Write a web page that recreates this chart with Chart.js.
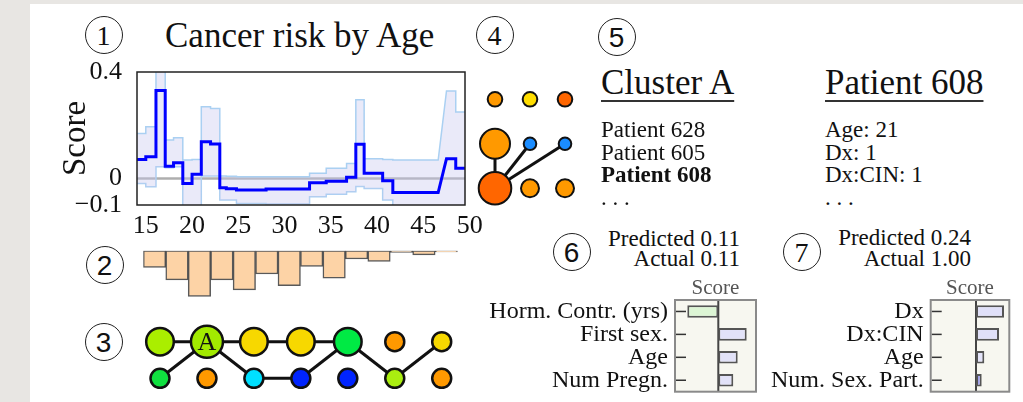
<!DOCTYPE html>
<html>
<head>
<meta charset="utf-8">
<script src="https://cdn.jsdelivr.net/npm/chart.js@4.4.1/dist/chart.umd.min.js"></script>
<style>
  html, body { margin: 0; padding: 0; }
  body {
    width: 1023px; height: 402px; position: relative; overflow: hidden;
    background: #e8e6e3;
    font-family: 'Liberation Serif', 'Times New Roman', serif; color: #111;
  }
  #sheet { position: absolute; left: 30px; top: 4px; right: 0; bottom: 0; background: #fff; }
  canvas { position: absolute; }
  .num {
    position: absolute; width: 36px; height: 36px; margin: -19.5px 0 0 -19.5px;
    border: 1.5px solid #222; border-radius: 50%;
    text-align: center; line-height: 37px; font-size: 28px;
  }
  .sans { font-family: 'Liberation Sans', Arial, sans-serif; }
  .txt { position: absolute; white-space: nowrap; }
  .big { font-size: 35px; line-height: 40px; }
  .head { text-decoration: underline; text-decoration-thickness: 2px; text-underline-offset: 6px; text-decoration-color: #333; }
  .list { font-size: 23px; line-height: 22.5px; }
  .pred { font-size: 23px; line-height: 20.6px; text-align: right; }
</style>
</head>
<body>
<div id="sheet"></div>

<!-- circled panel numbers -->
<div class="num" style="left:104px; top:35px;">1</div>
<div class="num sans" style="left:105px; top:265px;">2</div>
<div class="num sans" style="left:104px; top:342px;">3</div>
<div class="num" style="left:495px; top:35px;">4</div>
<div class="num sans" style="left:617px; top:37px;">5</div>
<div class="num sans" style="left:572px; top:252px;">6</div>
<div class="num" style="left:802px; top:252px;">7</div>

<div class="txt big" style="left:165px; top:16px;">Cancer risk by Age</div>

<canvas id="riskChart" width="440" height="190" style="left:50px; top:55px; width:440px; height:190px;"></canvas>
<canvas id="histChart" width="345" height="60" style="left:130px; top:245px; width:345px; height:60px;"></canvas>
<canvas id="graphChart" width="345" height="87" style="left:130px; top:315px; width:345px; height:87px;"></canvas>
<canvas id="clusterChart" width="120" height="135" style="left:470px; top:75px; width:120px; height:135px;"></canvas>

<!-- panel 5 -->
<div class="txt big head" style="left:601px; top:63px;">Cluster A</div>
<div class="txt big head" style="left:825px; top:63px;">Patient 608</div>
<div class="txt list" style="left:601px; top:119px;">Patient 628<br>Patient 605<br><b>Patient 608</b><br>. . .</div>
<div class="txt list" style="left:825px; top:119px;">Age: 21<br>Dx: 1<br>Dx:CIN: 1<br>. . .</div>

<!-- panels 6 and 7 -->
<div class="txt pred" style="right:283px; top:228.6px;">Predicted 0.11<br>Actual 0.11</div>
<div class="txt pred" style="right:52px; top:228px;">Predicted 0.24<br>Actual 1.00</div>
<canvas id="featChartA" width="285" height="130" style="left:480px; top:270px; width:285px; height:130px;"></canvas>
<canvas id="featChartB" width="263" height="130" style="left:760px; top:270px; width:263px; height:130px;"></canvas>

<script>
// Panel 1: score by age (step segments)
const segStart = [14.05, 15.0, 16.1, 17.1, 18.0, 19.0, 20.0, 21.0, 22.0, 23.0, 23.7, 24.8, 28.0, 32.7, 34.5, 36.7, 37.7, 38.6, 40.6, 41.7, 47.5, 48.5];
const segEnd   = [15.0, 16.1, 17.1, 18.0, 19.0, 20.0, 21.0, 22.0, 23.0, 23.7, 24.8, 28.0, 32.7, 34.5, 36.7, 37.7, 38.6, 40.6, 41.7, 46.6, 48.5, 49.5];
const scoreMean  = [0.071, 0.081, 0.33, 0.046, 0.059, -0.019, 0.016, 0.138, 0.129, -0.035, -0.039, -0.044, -0.040, -0.016, -0.011, 0.004, 0.128, 0.019, -0.009, -0.053, 0.074, 0.038];
const scoreUpper = [0.169, 0.194, 0.50, 0.144, 0.153, 0.069, 0.071, 0.269, 0.263, 0.009, 0.008, 0.006, 0.006, 0.019, 0.038, 0.056, 0.296, 0.074, 0.071, 0.069, 0.329, 0.25];
const scoreLower = [-0.019, -0.031, 0.044, 0.040, 0.044, -0.15, -0.15, 0.009, 0.009, -0.081, -0.081, -0.094, -0.096, -0.069, -0.060, -0.050, -0.030, -0.038, -0.081, -0.15, -0.15, -0.15];
const ageTicks = [15, 20, 25, 30, 35, 40, 45, 50];
const scoreTicks = [-0.1, 0, 0.4];

// Panel 2: patient count per age bin
const histBins = ['15', '17', '20', '22', '25', '27', '30', '32', '35', '37', '40', '42', '45', '47'];
const histCounts = [20, 35, 55, 35, 47, 28, 42, 19, 33, 10, 13, 2, 5, 1.5];

// Panel 3: cluster graph (top row = 1, bottom row = 0)
const graphCol = [0, 1, 2, 3, 4, 5, 6, 0, 1, 2, 3, 4, 5, 6];
const graphRow = [1, 1, 1, 1, 1, 1, 1, 0, 0, 0, 0, 0, 0, 0];
const graphSize = [13.8, 16, 13.8, 13.8, 13.8, 9.5, 9.5, 9.5, 9.5, 9.5, 9.5, 9.5, 9.5, 9.5];
const graphColor = ['#aaee00', '#a2ea00', '#f7d800', '#f7d800', '#00ea44', '#ff9900', '#f7d800',
                    '#10e040', '#ff9900', '#00e0ff', '#0024ff', '#0024ff', '#aaee10', '#ff9900'];
const graphEdges = [[0, 1], [1, 2], [2, 3], [3, 4], [7, 1], [1, 9], [9, 10], [10, 4], [4, 12], [12, 6]];

// Panel 4: patients inside cluster A
const clusterCol = [0, 1, 2, 0, 1, 2, 0, 1, 2];
const clusterRow = [2, 2, 2, 1, 1, 1, 0, 0, 0];
const clusterSize = [7.3, 7.3, 7.3, 15, 6.3, 6.3, 16.3, 9, 9];
const clusterColor = ['#ff9900', '#ffdd00', '#ff6600', '#ff9900', '#1a8cff', '#1a8cff', '#ff6600', '#ff9900', '#ff9900'];
const clusterEdges = [[6, 3], [6, 4], [6, 5]];

// Panels 6 and 7: feature contributions
const featA = ['Horm. Contr. (yrs)', 'First sex.', 'Age', 'Num Pregn.'];
const scoreA = [-0.31, 0.284, 0.194, 0.15];
const colorA = ['#dcf5d4', '#e2e2f8', '#e2e2f8', '#e2e2f8'];
const featB = ['Dx', 'Dx:CIN', 'Age', 'Num. Sex. Part.'];
const scoreB = [0.28, 0.23, 0.083, 0.057];
const colorB = ['#e0e0f8', '#e0e0f8', '#e4e4fa', '#a0a0ec'];

const serif = "'Liberation Serif', 'Times New Roman', serif";
Chart.defaults.animation = false;
Chart.defaults.responsive = false;
Chart.defaults.plugins.legend.display = false;
Chart.defaults.plugins.tooltip.enabled = false;

function stepPoints(values) {
  const pts = [];
  for (let i = 0; i < values.length; i++) {
    pts.push({ x: segStart[i], y: values[i] });
    pts.push({ x: segEnd[i], y: values[i] });
  }
  return pts;
}

// no extra room for the outer tick labels, the plot box is fixed
function noPad(s) {
  s.paddingTop = 0; s.paddingBottom = 0; s.paddingLeft = 0; s.paddingRight = 0;
}

// zero line + black frame around the plot
const framePlugin = {
  id: 'riskFrame',
  beforeDatasetsDraw(chart) {
    const { ctx, chartArea: a } = chart;
    const y0 = chart.scales.y.getPixelForValue(0);
    ctx.save();
    ctx.strokeStyle = 'rgba(120,120,120,0.6)';
    ctx.lineWidth = 2.5;
    ctx.beginPath();
    ctx.moveTo(a.left, y0);
    ctx.lineTo(a.right, y0);
    ctx.stroke();
    ctx.restore();
  },
  afterDraw(chart) {
    const { ctx, chartArea: a } = chart;
    ctx.save();
    ctx.strokeStyle = '#222';
    ctx.lineWidth = 1.5;
    ctx.strokeRect(a.left, a.top, a.right - a.left, a.bottom - a.top);
    ctx.restore();
  }
};

new Chart(document.getElementById('riskChart'), {
  type: 'line',
  data: {
    datasets: [
      { data: stepPoints(scoreMean), borderColor: '#0000ff', borderWidth: 3, pointRadius: 0, fill: false, order: 0 },
      { data: stepPoints(scoreUpper), borderColor: '#aad0f2', borderWidth: 1.5, pointRadius: 0,
        fill: '+1', backgroundColor: 'rgba(200,200,240,0.38)', order: 1 },
      { data: stepPoints(scoreLower), borderColor: '#aad0f2', borderWidth: 1.5, pointRadius: 0, fill: false, order: 2 }
    ]
  },
  options: {
    layout: { padding: { top: 17, right: 25, left: 0, bottom: 0 } },
    scales: {
      x: {
        type: 'linear', min: 14.05, max: 49.5,
        grid: { display: false, drawTicks: false }, border: { display: false },
        afterBuildTicks: s => { s.ticks = ageTicks.map(v => ({ value: v })); },
        afterFit: s => { s.height = 40; noPad(s); },
        ticks: { autoSkip: false, maxRotation: 0, padding: 6, color: '#111', font: { family: serif, size: 26 },
          callback: v => String(v) }
      },
      y: {
        min: -0.1, max: 0.4,
        grid: { display: false, drawTicks: false }, border: { display: false },
        afterBuildTicks: s => { s.ticks = scoreTicks.map(v => ({ value: v })); },
        afterFit: s => { s.width = 87; noPad(s); },
        ticks: { autoSkip: false, padding: 15, color: '#111', font: { family: serif, size: 26 },
          callback: v => v === 0 ? '0' : (v < 0 ? '\u2212' : '') + Math.abs(v).toFixed(1) },
        title: { display: true, text: 'Score', color: '#111', font: { family: serif, size: 33 }, padding: { top: 7, bottom: 0 } }
      }
    }
  },
  plugins: [framePlugin]
});

new Chart(document.getElementById('histChart'), {
  type: 'bar',
  data: {
    labels: histBins,
    datasets: [{ data: histCounts, backgroundColor: '#fdd3a6', borderColor: 'rgba(60,60,60,0.85)',
      borderWidth: 1.5, borderSkipped: false, barPercentage: 1, categoryPercentage: 1 }]
  },
  options: {
    layout: { padding: { left: 13.3, right: 17.4, top: 5.7, bottom: 4.3 } },
    scales: {
      x: { display: false },
      y: { display: false, reverse: true, min: 0, max: 60 }
    }
  }
});

function nodeChart(id, cols, rows, sizes, colors, edges, xMax, yMax, pad, bw, extra) {
  const datasets = [{
    data: cols.map((c, i) => ({ x: c, y: rows[i] })),
    pointRadius: sizes, pointBackgroundColor: colors, pointBorderColor: '#111',
    pointBorderWidth: bw, clip: false, order: 0
  }];
  edges.forEach(([a, b]) => {
    datasets.push({
      data: [{ x: cols[a], y: rows[a] }, { x: cols[b], y: rows[b] }],
      showLine: true, borderColor: '#111', borderWidth: 3, pointRadius: 0, clip: false, order: 1
    });
  });
  return new Chart(document.getElementById(id), {
    type: 'scatter',
    data: { datasets },
    options: {
      layout: { padding: pad },
      scales: {
        x: { type: 'linear', display: false, min: 0, max: xMax },
        y: { type: 'linear', display: false, min: 0, max: yMax }
      }
    },
    plugins: extra ? [extra] : []
  });
}

// letter "A" on the cluster node
const letterPlugin = {
  id: 'letter',
  afterDatasetsDraw(chart) {
    const p = chart.getDatasetMeta(0).data[1];
    const ctx = chart.ctx;
    ctx.save();
    ctx.fillStyle = '#111';
    ctx.font = '26px ' + serif;
    ctx.textAlign = 'center';
    ctx.textBaseline = 'middle';
    ctx.fillText('A', p.x, p.y + 1);
    ctx.restore();
  }
};

nodeChart('graphChart', graphCol, graphRow, graphSize, graphColor, graphEdges, 6, 1,
  { left: 30, right: 33.3, top: 26.7, bottom: 23.7 }, 2.5, letterPlugin);
nodeChart('clusterChart', clusterCol, clusterRow, clusterSize, clusterColor, clusterEdges, 2, 2,
  { left: 25, right: 25, top: 24.3, bottom: 21.7 }, 2, null);

// beige box, zero line, tick marks and frame for the feature charts
const boxPlugin = {
  id: 'box',
  beforeDatasetsDraw(chart) {
    const { ctx, chartArea: a } = chart;
    const x0 = chart.scales.x.getPixelForValue(0);
    ctx.save();
    ctx.fillStyle = '#f7f7f0';
    ctx.fillRect(a.left, a.top, a.right - a.left, a.bottom - a.top);
    ctx.strokeStyle = '#444';
    ctx.lineWidth = 2;
    ctx.beginPath();
    ctx.moveTo(x0, a.top);
    ctx.lineTo(x0, a.bottom);
    ctx.stroke();
    ctx.lineWidth = 1.5;
    ctx.strokeStyle = '#333';
    chart.data.labels.forEach((l, i) => {
      const y = chart.scales.y.getPixelForValue(i);
      ctx.beginPath();
      ctx.moveTo(a.left + 1, y);
      ctx.lineTo(a.left + 11, y);
      ctx.stroke();
    });
    ctx.restore();
  },
  afterDatasetsDraw(chart) {
    const { ctx, chartArea: a } = chart;
    ctx.save();
    ctx.strokeStyle = '#8a8a8a';
    ctx.lineWidth = 2;
    ctx.strokeRect(a.left, a.top, a.right - a.left, a.bottom - a.top);
    ctx.restore();
  }
};

function featureChart(id, labels, values, colors, xMin, xMax, yWidth, padRight) {
  return new Chart(document.getElementById(id), {
    type: 'bar',
    data: {
      labels,
      datasets: [{ data: values, backgroundColor: colors, borderColor: '#555', borderWidth: 2,
        borderSkipped: false, barPercentage: 0.55, categoryPercentage: 1 }]
    },
    options: {
      indexAxis: 'y',
      layout: { padding: { right: padRight, bottom: 8.3 } },
      scales: {
        x: {
          position: 'top', min: xMin, max: xMax,
          grid: { display: false, drawTicks: false }, border: { display: false },
          ticks: { display: false },
          afterFit: s => { s.height = 30; noPad(s); },
          title: { display: true, text: 'Score', color: '#555', font: { family: serif, size: 21 }, padding: { top: 6, bottom: 0 } }
        },
        y: {
          grid: { display: false, drawTicks: false }, border: { display: false },
          afterFit: s => { s.width = yWidth; noPad(s); },
          ticks: { autoSkip: false, padding: 7, color: '#111', font: { family: serif, size: 24 } }
        }
      }
    },
    plugins: [boxPlugin]
  });
}

featureChart('featChartA', featA, scoreA, colorA, -0.433, 0.377, 195, 9);
featureChart('featChartB', featB, scoreB, colorB, -0.453, 0.333, 170.7, 13.7);
</script>
</body>
</html>
